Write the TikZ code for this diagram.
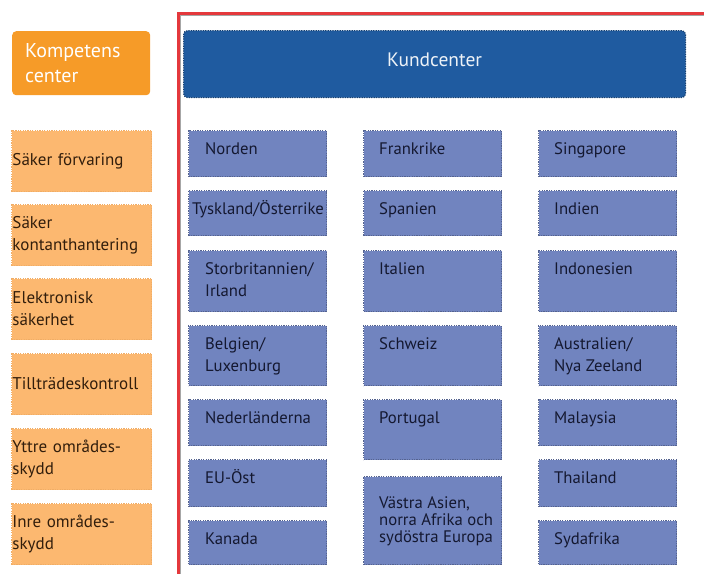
\documentclass[tikz,border=0pt]{standalone}
\usepackage{fontspec}
\setmainfont{PT Sans}
\usetikzlibrary{positioning}
\definecolor{komporange}{RGB}{246,155,40}
\definecolor{safeorange}{RGB}{252,184,112}
\definecolor{safetext}{RGB}{50,30,12}
\definecolor{kundblue}{RGB}{31,91,160}
\definecolor{regblue}{RGB}{113,132,191}
\definecolor{regtextc}{RGB}{20,24,48}
\definecolor{framered}{RGB}{228,56,60}
\tikzset{
  kompbox/.style={anchor=north west, fill=komporange, rounded corners=4pt,
    minimum width=138, minimum height=64, text width=112, inner xsep=13,
    align=left, text=white, font=\fontsize{20}{25}\selectfont},
  kundbox/.style={anchor=north west, fill=kundblue, rounded corners=4pt,
    draw=kundblue!70!black, dash pattern=on 1.2pt off 1.2pt, line width=1.2pt,
    minimum width=502, minimum height=67, text depth=8pt, text=white!92!kundblue,
    font=\fontsize{19.5}{22}\selectfont},
  safebox/.style={anchor=north west, fill=safeorange, draw=safeorange!80!brown,
    dash pattern=on 1.2pt off 1.2pt, line width=1pt,
    minimum width=140, minimum height=61, text width=138, inner xsep=1,
    align=left, text=safetext, font=\fontsize{17}{22}\selectfont},
  regbox/.style={anchor=north west, fill=regblue, draw=regblue!75!black,
    dash pattern=on 1.2pt off 1.2pt, line width=1pt, minimum width=138, inner sep=0},
  regtext/.style={anchor=base west, inner sep=0, align=left, text=regtextc,
    font=\fontsize{16.7}{22}\selectfont}
}
\begin{document}
\begin{tikzpicture}[x=1pt, y=-1pt]
  \useasboundingbox (0,0) rectangle (704,574);
\draw [framered, line width=3pt] (704,13.5) -- (178.5,13.5) -- (178.5,574);
\draw [gray!70, line width=.8pt] (704,15.4) -- (180.4,15.4) -- (180.4,574);
% left column
\node[kompbox] (komp) at (12,31) {Kompetens\\center};
\node[safebox] (forvaring) at (11,130) {Säker förvaring};
\node[safebox] (kontant) at (11,204) {Säker\\kontanthantering};
\node[safebox] (elektronisk) at (11,278) {Elektronisk\\säkerhet};
\node[safebox] (tilltrade) at (11,353) {Tillträdeskontroll};
\node[safebox] (yttre) at (11,428) {Yttre områdes-\\skydd};
\node[safebox] (inre) at (11,503) {Inre områdes-\\skydd};
% kundcenter
\node[kundbox] (kund) at (183,30) {Kundcenter};
% regions, first column
\node[regbox, minimum height=46] (norden) at (188,130) {};
\node[regbox, minimum height=45] (tyskland) at (188,190) {};
\node[regbox, minimum height=61] (storbrit) at (188,250) {};
\node[regbox, minimum height=60] (belgien) at (188,325) {};
\node[regbox, minimum height=46] (nederl) at (188,399) {};
\node[regbox, minimum height=47] (euost) at (188,459) {};
\node[regbox, minimum height=44] (kanada) at (188,520) {};
% second column
\node[regbox, minimum height=46] (frankrike) at (363,130) {};
\node[regbox, minimum height=45] (spanien) at (363,190) {};
\node[regbox, minimum height=61] (italien) at (363,250) {};
\node[regbox, minimum height=60] (schweiz) at (363,325) {};
\node[regbox, minimum height=60] (portugal) at (363,399) {};
\node[regbox, minimum height=88] (vastra) at (363,476) {};
% third column
\node[regbox, minimum height=46] (singapore) at (538,130) {};
\node[regbox, minimum height=45] (indien) at (538,190) {};
\node[regbox, minimum height=61] (indonesien) at (538,250) {};
\node[regbox, minimum height=60] (australien) at (538,325) {};
\node[regbox, minimum height=46] (malaysia) at (538,399) {};
\node[regbox, minimum height=47] (thailand) at (538,459) {};
\node[regbox, minimum height=44] (sydafrika) at (538,520) {};
% texts (base = last line)
\node[regtext] (norden-t) at ([xshift=17pt,yshift=-24pt]norden.north west) {Norden};
\node[regtext] (tyskland-t) at ([xshift=4pt,yshift=-24pt]tyskland.north west) {Tyskland/Österrike};
\node[regtext] (storbrit-t) at ([xshift=17pt,yshift=-46pt]storbrit.north west) {Storbritannien/\\Irland};
\node[regtext] (belgien-t) at ([xshift=17pt,yshift=-46pt]belgien.north west) {Belgien/\\Luxenburg};
\node[regtext] (nederl-t) at ([xshift=17pt,yshift=-24pt]nederl.north west) {Nederländerna};
\node[regtext] (euost-t) at ([xshift=17pt,yshift=-24pt]euost.north west) {EU-Öst};
\node[regtext] (kanada-t) at ([xshift=17pt,yshift=-24pt]kanada.north west) {Kanada};
\node[regtext] (frankrike-t) at ([xshift=16pt,yshift=-24pt]frankrike.north west) {Frankrike};
\node[regtext] (spanien-t) at ([xshift=16pt,yshift=-24pt]spanien.north west) {Spanien};
\node[regtext] (italien-t) at ([xshift=16pt,yshift=-24pt]italien.north west) {Italien};
\node[regtext] (schweiz-t) at ([xshift=16pt,yshift=-24pt]schweiz.north west) {Schweiz};
\node[regtext] (portugal-t) at ([xshift=16pt,yshift=-24pt]portugal.north west) {Portugal};
\node[regtext, font=\fontsize{16.7}{17}\selectfont] (vastra-t) at ([xshift=16pt,yshift=-66pt]vastra.north west) {Västra Asien,\\norra Afrika och\\sydöstra Europa};
\node[regtext] (singapore-t) at ([xshift=16pt,yshift=-24pt]singapore.north west) {Singapore};
\node[regtext] (indien-t) at ([xshift=16pt,yshift=-24pt]indien.north west) {Indien};
\node[regtext] (indonesien-t) at ([xshift=16pt,yshift=-24pt]indonesien.north west) {Indonesien};
\node[regtext] (australien-t) at ([xshift=16pt,yshift=-46pt]australien.north west) {Australien/\\Nya Zeeland};
\node[regtext] (malaysia-t) at ([xshift=16pt,yshift=-24pt]malaysia.north west) {Malaysia};
\node[regtext] (thailand-t) at ([xshift=16pt,yshift=-24pt]thailand.north west) {Thailand};
\node[regtext] (sydafrika-t) at ([xshift=16pt,yshift=-24pt]sydafrika.north west) {Sydafrika};
    \end{tikzpicture}
\end{document}
